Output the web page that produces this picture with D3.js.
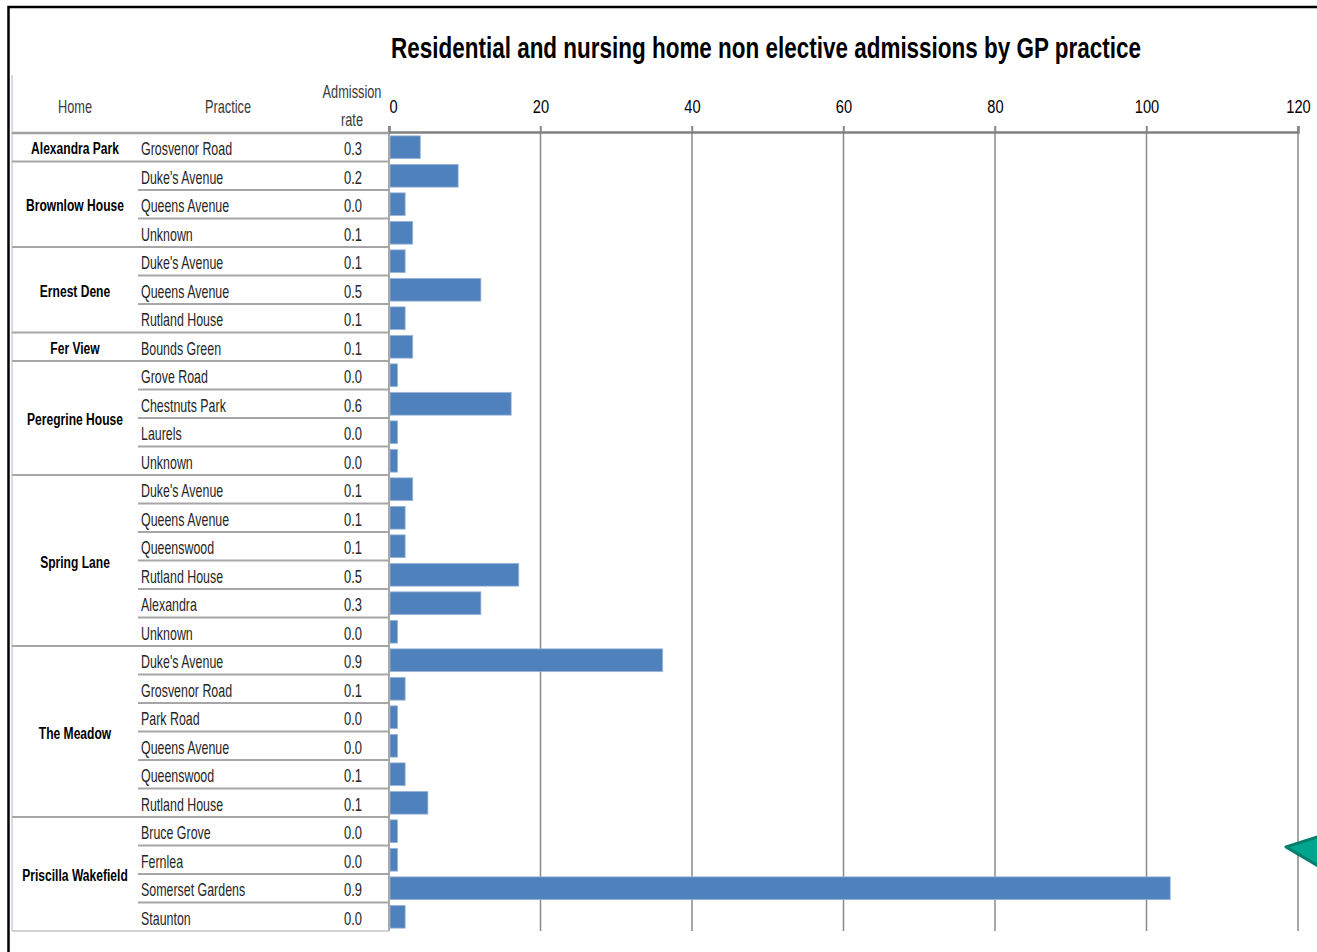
<!DOCTYPE html>
<html>
<head>
<meta charset="utf-8">
<script src="https://cdn.jsdelivr.net/npm/d3@7"></script>
<style>
  body { margin: 0; background: #fff; }
  svg text { font-family: "Liberation Sans", Arial, sans-serif; }
</style>
</head>
<body>
<svg id="chart" width="1317" height="952"></svg>
<script>
// data
var homes = [
  {name: "Alexandra Park", rows: 1},
  {name: "Brownlow House", rows: 3},
  {name: "Ernest Dene", rows: 3},
  {name: "Fer View", rows: 1},
  {name: "Peregrine House", rows: 4},
  {name: "Spring Lane", rows: 6},
  {name: "The Meadow", rows: 6},
  {name: "Priscilla Wakefield", rows: 4}
];
var practices = ["Grosvenor Road",
  "Duke's Avenue", "Queens Avenue", "Unknown",
  "Duke's Avenue", "Queens Avenue", "Rutland House",
  "Bounds Green",
  "Grove Road", "Chestnuts Park", "Laurels", "Unknown",
  "Duke's Avenue", "Queens Avenue", "Queenswood", "Rutland House", "Alexandra", "Unknown",
  "Duke's Avenue", "Grosvenor Road", "Park Road", "Queens Avenue", "Queenswood", "Rutland House",
  "Bruce Grove", "Fernlea", "Somerset Gardens", "Staunton"];
var rates = ["0.3",
  "0.2", "0.0", "0.1",
  "0.1", "0.5", "0.1",
  "0.1",
  "0.0", "0.6", "0.0", "0.0",
  "0.1", "0.1", "0.1", "0.5", "0.3", "0.0",
  "0.9", "0.1", "0.0", "0.0", "0.1", "0.1",
  "0.0", "0.0", "0.9", "0.0"];
var admissions = [4,
  9, 2, 3,
  2, 12, 2,
  3,
  1, 16, 1, 1,
  3, 2, 2, 17, 12, 1,
  36, 2, 1, 1, 2, 5,
  1, 1, 103, 2];
var xTicks = [0, 20, 40, 60, 80, 100, 120];

var svg = d3.select("#chart");

var top_y = 133, bottom_y = 931,
    bar_left = 389, bar_right = 1298,
    table_left = 12, practice_left = 138;

/* the original uses a tall narrow font, so squeeze text sideways */
function squeeze(sel, k) {
  sel.each(function() {
    var t = d3.select(this);
    var tx = +t.attr("x") || 0, ty = +t.attr("y") || 0;
    t.attr("x", 0).attr("y", 0)
     .attr("transform", `translate(${tx},${ty}) scale(${k},1)`);
  });
}

var x = d3.scaleLinear().domain([0, 120]).range([bar_left, bar_right]);
var y = d3.scaleBand().domain(d3.range(practices.length)).range([top_y, bottom_y]).padding(0);
var bh = y.bandwidth();

// outer frame
svg.append("path")
  .attr("d", "M8.5,952 V7 H1317")
  .style("fill", "none").style("stroke", "#000").style("stroke-width", 2.5);

// title
var title = svg.append("text")
  .attr("x", 766).attr("y", 58)
  .attr("text-anchor", "middle")
  .style("font-size", "30px").style("font-weight", "bold").style("fill", "#000")
  .text("Residential and nursing home non elective admissions by GP practice");
squeeze(title, 750 / title.node().getComputedTextLength());

// gridlines
svg.append("g").selectAll("line").data(xTicks).join("line")
  .attr("x1", d => x(d)).attr("x2", d => x(d))
  .attr("y1", 126).attr("y2", bottom_y)
  .style("stroke", "#8a8a8a").style("stroke-width", 1.5);

// axis
var axis = svg.append("g")
  .attr("transform", `translate(0, ${top_y - 1})`)
  .call(d3.axisTop(x).tickValues(xTicks).tickSize(6).tickPadding(13));
axis.select(".domain").style("stroke", "#808080").style("stroke-width", 2.5);
axis.selectAll(".tick line").style("stroke", "#8a8a8a").style("stroke-width", 1.5);
axis.selectAll(".tick text")
  .style("font-size", "19px").style("fill", "#000")
  .style("font-family", "\"Liberation Sans\", Arial, sans-serif")
  .attr("x", d => d === 0 ? 4 : 0)
  .attr("y", -19).attr("dy", null);
squeeze(axis.selectAll(".tick text"), 0.77);

// table frame
svg.append("line")
  .attr("x1", table_left).attr("x2", table_left).attr("y1", 75).attr("y2", bottom_y)
  .style("stroke", "#c9d1dc").style("stroke-width", 1.5);
svg.append("line")
  .attr("x1", table_left).attr("x2", bar_left).attr("y1", top_y).attr("y2", top_y)
  .style("stroke", "#a0a0a0").style("stroke-width", 2.5);
svg.append("line")
  .attr("x1", table_left).attr("x2", bar_left).attr("y1", bottom_y).attr("y2", bottom_y)
  .style("stroke", "#c4c4c4").style("stroke-width", 1.5);

// headers
var header = svg.append("g").style("font-size", "18px").style("fill", "#3a3a3a").attr("text-anchor", "middle");
header.append("text").attr("x", 75).attr("y", 113).text("Home");
header.append("text").attr("x", 228).attr("y", 113).text("Practice");
header.append("text").attr("x", 352).attr("y", 98).text("Admission");
header.append("text").attr("x", 352).attr("y", 126).text("rate");
squeeze(header.selectAll("text"), 0.71);

// row separators and home labels
var start = 0;
var homeLabels = svg.append("g");
homes.forEach(function(h) {
  for (let r = 0; r < h.rows; r++) {
    var i = start + r;
    if (i > 0) {
      svg.append("line")
        .attr("x1", r === 0 ? table_left : practice_left).attr("x2", bar_left)
        .attr("y1", y(i)).attr("y2", y(i))
        .style("stroke", "#a6a6a6").style("stroke-width", 2);
    }
  }
  homeLabels.append("text")
    .attr("x", 75)
    .attr("y", (y(start) + y(start + h.rows - 1) + bh) / 2 + 7)
    .attr("text-anchor", "middle")
    .style("font-size", "17px").style("font-weight", "bold").style("fill", "#000")
    .text(h.name);
  start += h.rows;
});
squeeze(homeLabels.selectAll("text"), 0.71);

// practice names and rates
var names = svg.append("g").selectAll("text").data(practices).join("text")
  .attr("x", 141).attr("y", (d, i) => y(i) + bh / 2 + 8)
  .style("font-size", "18px").style("fill", "#262626")
  .text(d => d);
squeeze(names, 0.69);
var rateText = svg.append("g").selectAll("text").data(rates).join("text")
  .attr("x", 353).attr("y", (d, i) => y(i) + bh / 2 + 8)
  .attr("text-anchor", "middle")
  .style("font-size", "18px").style("fill", "#262626")
  .text(d => d);
squeeze(rateText, 0.72);

// bars
svg.append("g").selectAll("rect").data(admissions).join("rect")
  .attr("x", x(0) + 1)
  .attr("y", (d, i) => y(i) + bh * 0.1)
  .attr("width", d => x(d) - x(0))
  .attr("height", bh * 0.8)
  .style("fill", "#4f81bd")
  .style("stroke", "#9db7da").style("stroke-width", 0.8);

// teal callout arrow at the right edge
svg.append("polygon")
  .attr("points", "1286,847 1320,836 1320,867")
  .style("fill", "#00a48f").style("stroke", "#007f6d").style("stroke-width", 3)
  .style("stroke-linejoin", "round");
</script>
</body>
</html>
